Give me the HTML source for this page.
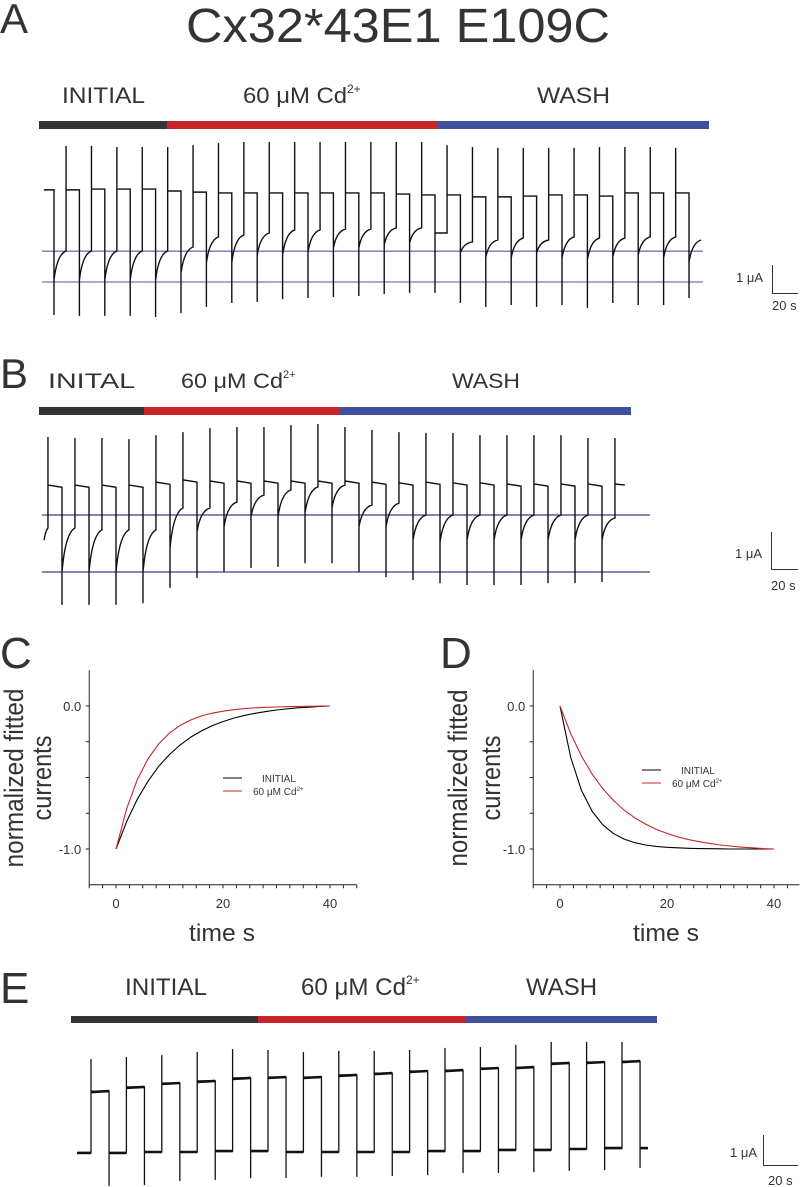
<!DOCTYPE html>
<html><head><meta charset="utf-8"><title>Cx32*43E1 E109C</title>
<style>
html,body{margin:0;padding:0;background:#fff;}
svg{display:block;font-family:"Liberation Sans",sans-serif;}
</style></head>
<body>
<svg id="fig" width="800" height="1187" viewBox="0 0 800 1187" xmlns="http://www.w3.org/2000/svg">
<rect x="0" y="0" width="800" height="1187" fill="#fff"/>
<!-- Title & panel letters -->
<text x="186" y="42" font-size="48" fill="#333" textLength="424" lengthAdjust="spacingAndGlyphs">Cx32*43E1 E109C</text>
<text x="0" y="33" font-size="42" fill="#333">A</text>
<text x="0" y="388" font-size="42" fill="#333">B</text>
<text x="0" y="668" font-size="44" fill="#333">C</text>
<text x="440" y="668" font-size="44" fill="#333">D</text>
<text x="0" y="1003" font-size="44" fill="#333">E</text>

<!-- Panel A condition bar -->
<g>
<text x="62" y="103" font-size="22" fill="#333" textLength="83" lengthAdjust="spacingAndGlyphs">INITIAL</text>
<text x="243" y="103" font-size="22" fill="#333"><tspan textLength="104" lengthAdjust="spacingAndGlyphs">60 μM Cd</tspan><tspan font-size="12" dy="-10">2+</tspan></text>
<text x="537" y="103" font-size="22" fill="#333" textLength="73" lengthAdjust="spacingAndGlyphs">WASH</text>
<rect x="39" y="121" width="128" height="8" fill="#333"/>
<rect x="167" y="121" width="271" height="8" fill="#cc2229"/>
<rect x="438" y="121" width="271" height="8" fill="#4050a0"/>
</g>
<!-- Panel B condition bar -->
<g>
<text x="48" y="388" font-size="21" fill="#333" textLength="87" lengthAdjust="spacingAndGlyphs">INITAL</text>
<text x="181" y="388" font-size="21" fill="#333"><tspan textLength="102" lengthAdjust="spacingAndGlyphs">60 μM Cd</tspan><tspan font-size="11" dy="-10">2+</tspan></text>
<text x="452" y="388" font-size="21" fill="#333" textLength="68" lengthAdjust="spacingAndGlyphs">WASH</text>
<rect x="39" y="407" width="105" height="8" fill="#333"/>
<rect x="144" y="407" width="195" height="8" fill="#cc2229"/>
<rect x="339" y="407" width="292" height="8" fill="#4050a0"/>
</g>
<!-- Panel E condition bar -->
<g>
<text x="125" y="995" font-size="24" fill="#333" textLength="82" lengthAdjust="spacingAndGlyphs">INITIAL</text>
<text x="301" y="995" font-size="24" fill="#333"><tspan textLength="105" lengthAdjust="spacingAndGlyphs">60 μM Cd</tspan><tspan font-size="12" dy="-11">2+</tspan></text>
<text x="526" y="995" font-size="24" fill="#333" textLength="71" lengthAdjust="spacingAndGlyphs">WASH</text>
<rect x="71" y="1016" width="187" height="7" fill="#333"/>
<rect x="258" y="1016" width="208" height="7" fill="#cc2229"/>
<rect x="466" y="1016" width="191" height="7" fill="#4050a0"/>
</g>

<!-- Scale bars -->
<g stroke="#333" stroke-width="1" fill="none">
<path d="M772.5,265 V293.5 H798"/>
</g>
<text x="763" y="282" font-size="13" fill="#333" text-anchor="end">1 μA</text>
<text x="772" y="310" font-size="13" fill="#333">20 s</text>
<g stroke="#333" stroke-width="1" fill="none">
<path d="M771.5,532 V569.5 H798"/>
</g>
<text x="762" y="558" font-size="13" fill="#333" text-anchor="end">1 μA</text>
<text x="771" y="590" font-size="13" fill="#333">20 s</text>
<g stroke="#333" stroke-width="1" fill="none">
<path d="M763.5,1135 V1165.5 H798"/>
</g>
<text x="757" y="1157" font-size="13" fill="#333" text-anchor="end">1 μA</text>
<text x="768" y="1185" font-size="13" fill="#333">20 s</text>

<!-- Panel C/D axis titles -->
<text transform="translate(23,778) rotate(-90)" font-size="27" fill="#333" text-anchor="middle" textLength="179" lengthAdjust="spacingAndGlyphs">normalized fitted</text>
<text transform="translate(51,778) rotate(-90)" font-size="27" fill="#333" text-anchor="middle" textLength="85" lengthAdjust="spacingAndGlyphs">currents</text>
<text transform="translate(467,778) rotate(-90)" font-size="27" fill="#333" text-anchor="middle" textLength="177" lengthAdjust="spacingAndGlyphs">normalized fitted</text>
<text transform="translate(500,778) rotate(-90)" font-size="27" fill="#333" text-anchor="middle" textLength="85" lengthAdjust="spacingAndGlyphs">currents</text>
<text x="222" y="941" font-size="24" fill="#333" text-anchor="middle" textLength="66" lengthAdjust="spacingAndGlyphs">time s</text>
<text x="666" y="941" font-size="24" fill="#333" text-anchor="middle" textLength="66" lengthAdjust="spacingAndGlyphs">time s</text>

<!-- Legends -->
<g>
<line x1="223" y1="778" x2="242" y2="778" stroke="#000" stroke-width="1"/>
<text x="262" y="782" font-size="10" fill="#333">INITIAL</text>
<line x1="223" y1="791" x2="242" y2="791" stroke="#c0282d" stroke-width="1"/>
<text x="253" y="795" font-size="10" fill="#333">60 μM Cd<tspan font-size="6" dy="-4">2+</tspan></text>
</g>
<g>
<line x1="642" y1="770" x2="661" y2="770" stroke="#000" stroke-width="1"/>
<text x="681" y="774" font-size="10" fill="#333">INITIAL</text>
<line x1="642" y1="783" x2="661" y2="783" stroke="#c0282d" stroke-width="1"/>
<text x="672" y="787" font-size="10" fill="#333">60 μM Cd<tspan font-size="6" dy="-4">2+</tspan></text>
</g>
<g id="dyn"></g>
</svg>
<script>
// ---------- Panel A data (μA, relative to lower baseline) ----------
const A_period = 20;      // s between pulses
const A_upDelay = 9.5;    // s from down-step to up-step
const A_hi = [3.29,3.29,3.32,3.32,3.32,3.25,3.21,3.18,3.18,3.18,3.18,3.18,3.18,3.18,3.14,3.11,3.11,3.04,3.04,3.07,3.11,3.11,3.07,3.18,3.18,3.18];
const A_bot = [-1.18,-1.21,-1.21,-1.21,-1.25,-1.11,-0.89,-0.75,-0.71,-0.61,-0.57,-0.54,-0.5,-0.43,-0.39,-0.39,-0.75,-0.89,-0.82,-0.89,-0.82,-0.93,-0.75,-0.82,-0.82,-0.57];
const A_recStart = [0.07,0.07,0.07,0.07,0.07,0.32,0.68,0.71,0.96,0.96,1.07,1.21,1.21,1.32,1.39,1.75,1.04,0.89,0.86,1.04,0.86,0.79,0.89,0.96,0.86,0.71];
const A_recEnd = [1.11,1.11,1.11,1.11,1.11,1.25,1.61,1.68,1.75,1.86,1.86,1.89,1.89,1.93,1.93,1.75,1.43,1.5,1.57,1.5,1.61,1.57,1.57,1.61,1.61,1.5];
const A_top = [4.86,4.86,4.82,4.82,4.82,4.89,4.96,5,5,5,5,5,5,5,5,4.89,4.82,4.79,4.79,4.79,4.79,4.82,4.82,4.82,4.79];
const A_refLines = [0, 1.1];

// ---------- Panel B data ----------
const B_period = 20;
const B_upDelay = 9.6;
const B_bot = [-0.89,-0.89,-0.89,-0.84,-0.43,-0.16,0,0.11,0.14,0.24,0.24,0,-0.14,-0.22,-0.3,-0.35,-0.35,-0.35,-0.3,-0.3,-0.27];
const B_recStart = [0,0,0,0,0.65,1.08,1.22,1.49,1.49,1.59,1.73,1.22,1.22,0.86,0.81,0.86,0.86,0.86,0.86,0.86,0.86];
const B_recEnd = [1.19,1.14,1.14,1.14,1.73,1.73,1.89,2.08,2.22,2.3,2.35,1.81,1.86,1.54,1.54,1.54,1.54,1.54,1.54,1.54,1.46];
const B_top = [3.65,3.62,3.62,3.59,3.7,3.78,3.89,3.92,3.92,3.97,4.0,3.92,3.84,3.78,3.76,3.76,3.7,3.7,3.7,3.7,3.62,3.62];
const B_plateau = [2.35,2.35,2.35,2.35,2.43,2.49,2.46,2.46,2.46,2.46,2.46,2.46,2.43,2.41,2.43,2.41,2.41,2.38,2.38,2.38,2.38,2.38];
const B_refLines = [0, 1.54];

// ---------- Panel E data ----------
const E_period = 20;
const E_downDelay = 10.2;
const E_low = [-0.03,-0.03,0,0,0.03,0.03,0,0,0,0,0.03,0.03,0.07,0.07,0.1,0.13,0.13];
const E_high = [2.03,2.17,2.3,2.37,2.47,2.5,2.5,2.57,2.63,2.7,2.73,2.8,2.83,2.97,3.0,3.03];
const E_top = [3.1,3.17,3.23,3.33,3.43,3.4,3.33,3.37,3.37,3.4,3.47,3.5,3.57,3.67,3.67,3.67];
const E_bot = [-1.13,-1.1,-0.97,-0.93,-0.87,-0.87,-0.83,-0.83,-0.8,-0.77,-0.7,-0.7,-0.67,-0.63,-0.6,-0.53];

// ---------- Panels C & D (normalized fitted currents) ----------
const CD_time = [0,2,4,6,8,10,12,14,16,18,20,22,24,26,28,30,32,34,36,38,40];
const C_initial = [-1,-0.807,-0.651,-0.525,-0.421,-0.339,-0.272,-0.217,-0.174,-0.137,-0.109,-0.085,-0.066,-0.051,-0.039,-0.028,-0.02,-0.013,-0.008,-0.003,0];
const C_cd = [-1,-0.717,-0.513,-0.368,-0.264,-0.189,-0.135,-0.097,-0.069,-0.05,-0.036,-0.026,-0.018,-0.013,-0.009,-0.007,-0.005,-0.003,-0.002,-0.001,0];
const D_initial = [0,-0.359,-0.589,-0.736,-0.831,-0.892,-0.931,-0.956,-0.972,-0.982,-0.988,-0.992,-0.995,-0.997,-0.998,-0.999,-1,-1,-1,-1,-1];
const D_cd = [0,-0.193,-0.349,-0.475,-0.579,-0.661,-0.728,-0.783,-0.826,-0.863,-0.891,-0.915,-0.934,-0.949,-0.961,-0.972,-0.98,-0.987,-0.992,-0.997,-1];
const CD_xTickLabels = [0,20,40];
const CD_yTickLabels = [0.0,-1.0];

const NS = 'http://www.w3.org/2000/svg';
const root = document.getElementById('dyn');
function mk(tag, attrs){ const e=document.createElementNS(NS,tag); for(const k in attrs) e.setAttribute(k,attrs[k]); root.appendChild(e); return e; }
const f = v => v.toFixed(2);

// ---- Panel A ----
const xA = t => 54 + t*1.27;
const yA = v => 282 - v*28;
A_refLines.forEach(v=>{
  const l = mk('line',{x1:42,x2:703,y1:f(yA(v)),y2:f(yA(v)),stroke:'#7474b4','stroke-width':1.3});
  
  
});
(function(){
  let d = `M${f(xA(-8))},${f(yA(A_hi[0]))}`;
  for(let i=0;i<A_bot.length;i++){
    const td=i*A_period, tu=td+A_upDelay;
    d += ` L${f(xA(td))},${f(yA(A_hi[i]))} L${f(xA(td))},${f(yA(A_bot[i]))}`;
    const cv = A_recEnd[i]-0.12*(A_recEnd[i]-A_recStart[i]);
    d += ` M${f(xA(td))},${f(yA(A_recStart[i]))} Q${f(xA(td+0.25*A_upDelay))},${f(yA(cv))} ${f(xA(tu))},${f(yA(A_recEnd[i]))}`;
    if(i<A_top.length){
      d += ` L${f(xA(tu))},${f(yA(A_top[i]))} L${f(xA(tu))},${f(yA(A_hi[i+1]))}`;
    }
  }
  const p = mk('path',{d:d,fill:'none',stroke:'#111','stroke-width':1.4,'stroke-linejoin':'miter'});
  
  
})();

// ---- Panel B ----
const xB = t => 62 + t*1.35;
const yB = v => 572 - v*37;
B_refLines.forEach(v=>{
  const l = mk('line',{x1:42,x2:650,y1:f(yB(v)),y2:f(yB(v)),stroke:'#3c3c8e','stroke-width':1.2});
  
  
});
(function(){
  let d = `M${f(xB(-13.3))},${f(yB(0.86))} Q${f(xB(-12.3))},${f(yB(1.1))} ${f(xB(-10.4))},${f(yB(B_recEnd[0]))}`;
  d += ` L${f(xB(-10.4))},${f(yB(B_top[0]))} L${f(xB(-10.4))},${f(yB(B_plateau[0]))}`;
  for(let i=0;i<B_bot.length;i++){
    const td=i*B_period, tu=td+B_upDelay;
    d += ` L${f(xB(td))},${f(yB(B_plateau[i]-0.06))} L${f(xB(td))},${f(yB(B_bot[i]))}`;
    const cv = B_recEnd[i]-0.12*(B_recEnd[i]-B_recStart[i]);
    d += ` M${f(xB(td))},${f(yB(B_recStart[i]))} Q${f(xB(td+0.25*B_upDelay))},${f(yB(cv))} ${f(xB(tu))},${f(yB(B_recEnd[i]))}`;
    d += ` L${f(xB(tu))},${f(yB(B_top[i+1]))} L${f(xB(tu))},${f(yB(B_plateau[i+1]))}`;
  }
  d += ` L${f(xB(417))},${f(yB(B_plateau[B_plateau.length-1]-0.03))}`;
  const p = mk('path',{d:d,fill:'none',stroke:'#111','stroke-width':1.4});
  
  
})();

// ---- Panel E ----
const xE = t => 91 + t*1.77;
const yE = v => 1152 - v*30;
(function(){
  let d = `M${f(xE(-7.9))},${f(yE(E_low[0]))}`;
  for(let i=0;i<E_top.length;i++){
    const tu=i*E_period, td=tu+E_downDelay;
    d += ` L${f(xE(tu))},${f(yE(E_low[i]))} L${f(xE(tu))},${f(yE(E_top[i]))} L${f(xE(tu))},${f(yE(E_high[i]))}`;
    d += ` L${f(xE(td))},${f(yE(E_high[i]))} L${f(xE(td))},${f(yE(E_bot[i]))} L${f(xE(td))},${f(yE(E_low[i+1]))}`;
  }
  d += ` L${f(xE(314.7))},${f(yE(E_low[E_low.length-1]))}`;
  const p = mk('path',{d:d,fill:'none',stroke:'#111','stroke-width':1.3});
  
  
  // thick plateaus
  for(let i=0;i<E_high.length;i++){
    const tu=i*E_period, td=tu+E_downDelay;
    const h = mk('line',{x1:f(xE(tu)),x2:f(xE(td)),y1:f(yE(E_high[i])+1),y2:f(yE(E_high[i])),stroke:'#111','stroke-width':2.6});
    
    
  }
  for(let i=0;i<E_low.length;i++){
    const t0 = i===0 ? -7.9 : (i-1)*E_period+E_downDelay;
    const t1 = i<E_top.length ? i*E_period : 314.7;
    const lo = mk('line',{x1:f(xE(t0)),x2:f(xE(t1)),y1:f(yE(E_low[i])),y2:f(yE(E_low[i])),stroke:'#111','stroke-width':2.6});
    
    
  }
})();

// ---- Panels C & D ----
function drawFitPanel(name, x0, yInit, yCd){
  const xs = t => x0 + t*5.35;
  const ys = v => 706 - v*143;
  const axisX = xs(-5), axisY = ys(-1.25);
  const ax = mk('path',{d:`M${f(axisX)},${f(ys(0.25))} V${f(axisY)} H${f(Math.min(xs(45),799.5))}`,fill:'none',stroke:'#222','stroke-width':1});
  
  
  for(let t=-5;t<=45;t+=2.5){
    if(xs(t)>800) continue;
    const tk = mk('line',{x1:f(xs(t)),x2:f(xs(t)),y1:f(axisY),y2:f(axisY+3.5),stroke:'#222','stroke-width':1});
    
    
  }
  for(let v=0;v>=-1;v-=0.25){
    const tk = mk('line',{x1:f(axisX-3.5),x2:f(axisX),y1:f(ys(v)),y2:f(ys(v)),stroke:'#222','stroke-width':1});
    
    
  }
  CD_xTickLabels.forEach(t=>{
    const tx = mk('text',{x:f(xs(t)),y:f(axisY+23),'font-size':13,fill:'#333','text-anchor':'middle'});
    tx.textContent = String(t);
    
    
  });
  CD_yTickLabels.forEach(v=>{
    const tx = mk('text',{x:f(axisX-8),y:f(ys(v)+5),'font-size':13,fill:'#333','text-anchor':'end'});
    tx.textContent = v.toFixed(1);
    
    
  });
  const pts = arr => arr.map((v,i)=>`${f(xs(CD_time[i]))},${f(ys(v))}`).join(' ');
  const pb = mk('polyline',{points:pts(yInit),fill:'none',stroke:'#000','stroke-width':1.1,'stroke-linejoin':'round'});
  
  
  const pr = mk('polyline',{points:pts(yCd),fill:'none',stroke:'#c0282d','stroke-width':1.1,'stroke-linejoin':'round'});
  
  
}
drawFitPanel('c', 116, C_initial, C_cd);
drawFitPanel('d', 560, D_initial, D_cd);
</script>
</body></html>
